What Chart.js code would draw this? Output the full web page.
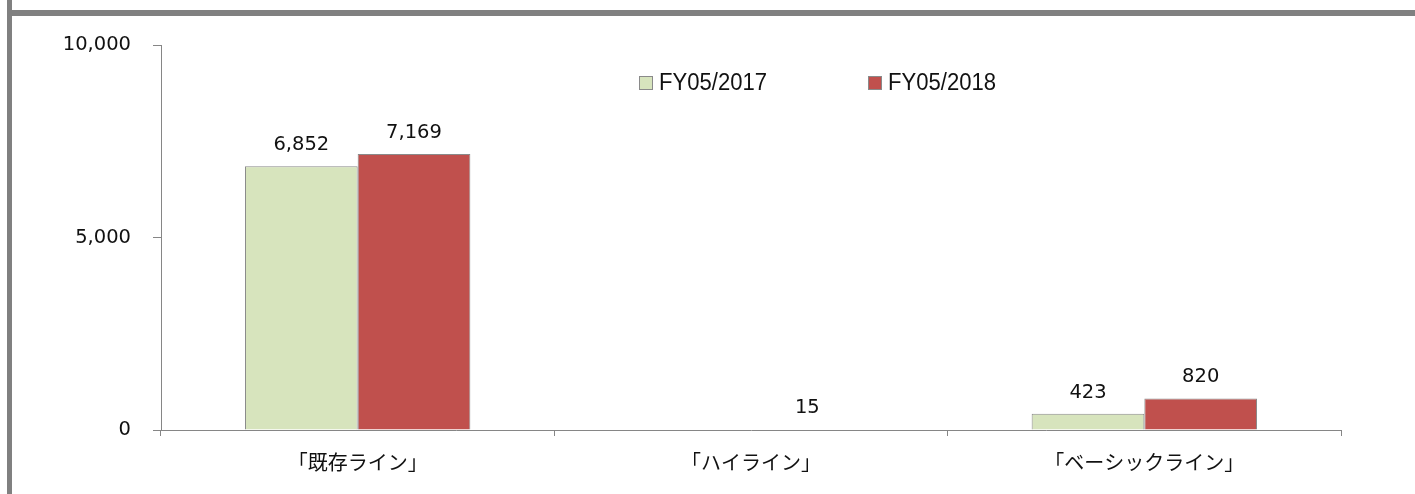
<!DOCTYPE html>
<html>
<head>
<meta charset="utf-8">
<script src="https://cdn.jsdelivr.net/npm/chart.js@4.4.1/dist/chart.umd.min.js"></script>
<style>
  body { margin: 0; background: #fff; }
  #wrap { position: relative; width: 1415px; height: 494px; }
  .bar-left { position: absolute; left: 7px; top: 0; width: 5px; height: 494px; background: #808080; }
  .bar-top { position: absolute; left: 7px; top: 10px; width: 1408px; height: 6px; background: #808080; }
  canvas { position: absolute; left: 0; top: 0; }
</style>
</head>
<body>
<div id="wrap">
  <div class="bar-left"></div>
  <div class="bar-top"></div>
  <canvas id="lineChart" width="1415" height="494"></canvas>
</div>
<script>
const categories = ['「既存ライン」', '「ハイライン」', '「ベーシックライン」'];
const fy2017 = [6852, null, 423];
const fy2018 = [7169, 15, 820];
const seriesNames = ['FY05/2017', 'FY05/2018'];
const yTicks = [0, 5000, 10000];

const axisGray = '#868686';
const numFont = '"DejaVu Sans", "Noto Sans CJK JP", sans-serif';

// value labels above each bar
const valueLabels = {
    id: 'valueLabels',
    afterDatasetsDraw(chart) {
        const ctx = chart.ctx;
        ctx.save();
        ctx.font = '19.5px ' + numFont;
        ctx.fillStyle = '#111';
        ctx.textAlign = 'center';
        ctx.textBaseline = 'alphabetic';
        chart.data.datasets.forEach((ds, i) => {
            chart.getDatasetMeta(i).data.forEach((bar, j) => {
                const v = ds.data[j];
                if (v === null) return;
                ctx.fillText(v.toLocaleString('en-US'), bar.x, bar.y - 16);
            });
        });
        ctx.restore();
    }
};

// legend inside the plot, like the original
const innerLegend = {
    id: 'innerLegend',
    afterDraw(chart) {
        const ctx = chart.ctx;
        const xs = [639, 868];
        ctx.save();
        chart.data.datasets.forEach((ds, i) => {
            ctx.fillStyle = ds.backgroundColor;
            ctx.fillRect(xs[i], 76, 14, 14);
            ctx.strokeStyle = '#8a8a8a';
            ctx.lineWidth = 1;
            ctx.strokeRect(xs[i] + 0.5, 76.5, 13, 13);
            ctx.save();
            ctx.translate(xs[i] + 20, 90);
            ctx.scale(0.96, 1);
            ctx.font = '23px "Liberation Sans", Arial, sans-serif';
            ctx.fillStyle = '#111';
            ctx.textBaseline = 'alphabetic';
            ctx.fillText(ds.label, 0, 0);
            ctx.restore();
        });
        ctx.restore();
    }
};

const ctx = document.getElementById('lineChart').getContext('2d');
const chart = new Chart(ctx, {
    type: 'bar',
    data: {
        labels: categories,
        datasets: [{
            label: seriesNames[0],
            data: fy2017,
            backgroundColor: '#D7E4BD',
            borderColor: '#8a8a8a',
            borderWidth: 1
        }, {
            label: seriesNames[1],
            data: fy2018,
            backgroundColor: '#C0504D',
            borderColor: '#8a8a8a',
            borderWidth: 1
        }]
    },
    options: {
        responsive: false,
        animation: false,
        categoryPercentage: 0.573,
        barPercentage: 1,
        layout: { padding: { left: 0, right: 74, top: 45, bottom: 0 } },
        plugins: {
            legend: { display: false },
            tooltip: { enabled: false }
        },
        scales: {
            x: {
                grid: { drawOnChartArea: false, tickLength: 6, color: axisGray },
                border: { color: axisGray },
                ticks: {
                    color: '#111',
                    padding: 14,
                    font: { family: '"Noto Sans CJK JP", sans-serif', size: 20 }
                },
                afterFit(scale) { scale.height = 64; }
            },
            y: {
                min: 0,
                max: 10000,
                grid: { drawOnChartArea: false, tickLength: 8, color: axisGray },
                border: { color: axisGray },
                afterBuildTicks(scale) { scale.ticks = yTicks.map(v => ({ value: v })); },
                ticks: {
                    color: '#111',
                    padding: 22,
                    font: { family: numFont, size: 19.5 },
                    callback: v => v.toLocaleString('en-US')
                },
                afterFit(scale) { scale.width = 161; }
            }
        }
    },
    plugins: [valueLabels, innerLegend]
});
</script>
</body>
</html>
